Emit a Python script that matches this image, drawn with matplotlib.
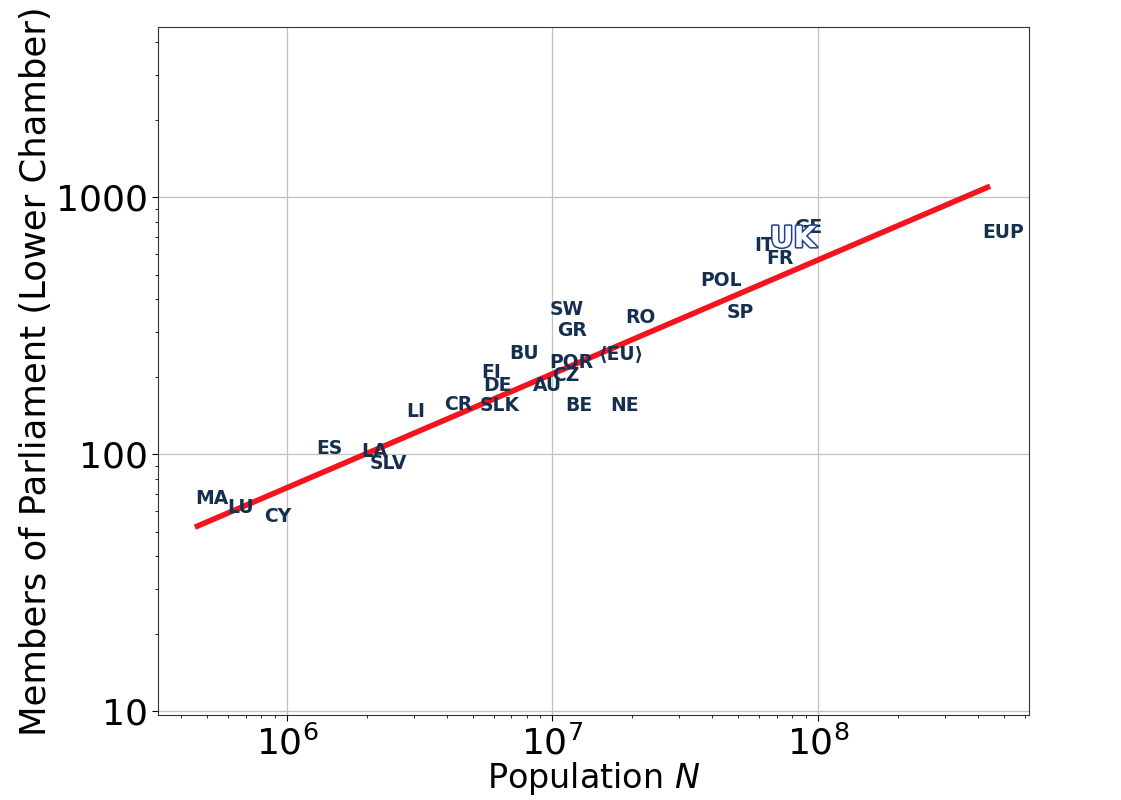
import matplotlib
matplotlib.use("Agg")
import matplotlib.pyplot as plt
import matplotlib.patheffects as pe
from matplotlib.ticker import FixedLocator, FixedFormatter

# country codes, population and lower-chamber seats
codes = ["MA", "LU", "CY", "ES", "LA", "SLV", "LI", "CR", "SLK", "FI", "DE",
         "BU", "AU", "SW", "GR", "POR", "CZ", "BE", "NE", "RO", "⟨EU⟩",
         "POL", "SP", "IT", "FR", "GE", "EUP"]
population = [5.2e5, 6.7e5, 9.2e5, 1.44e6, 2.13e6, 2.4e6, 3.06e6, 4.4e6, 6.3e6,
              5.9e6, 6.2e6, 7.8e6, 9.6e6, 1.13e7, 1.19e7, 1.18e7, 1.12e7,
              1.26e7, 1.86e7, 2.15e7, 1.81e7, 4.3e7, 5.1e7, 6.3e7, 7.2e7,
              9.2e7, 5.0e8]
seats = [67, 62, 57, 105, 102, 92, 147, 156, 155, 208, 185, 247, 185, 366,
         303, 228, 203, 155, 155, 341, 247, 475, 357, 650, 579, 764, 731]

uk_pop = 8.05e7
uk_seats = 687

# fitted power law endpoints
fit_x = [4.5e5, 4.45e8]
fit_y = [52, 1104]

fig = plt.figure(figsize=(11.21, 8.0), dpi=100)
ax = fig.add_axes([0.141, 0.106, 0.777, 0.86])
ax.set_xscale("log")
ax.set_yscale("log")
ax.set_xlim(3.27e5, 6.24e8)
ax.set_ylim(9.65, 4586)

ax.grid(True, which="major", color="#c0c0c0", linewidth=0.9)
ax.set_axisbelow(True)

ax.plot(fit_x, fit_y, color="#f5141e", linewidth=4, solid_capstyle="butt", zorder=2)

for c, x, y in zip(codes, population, seats):
    ax.text(x, y, c, ha="center", va="center", fontsize=13.5, fontweight="bold",
            color="#15304f", zorder=3)

ax.text(uk_pop, uk_seats, "UK", ha="center", va="center", fontsize=21,
        fontweight="bold", color="white", zorder=3,
        path_effects=[pe.withStroke(linewidth=2.2, foreground="#1d3f8f")])

ax.yaxis.set_major_locator(FixedLocator([10, 100, 1000]))
ax.yaxis.set_major_formatter(FixedFormatter(["10", "100", "1000"]))
ax.tick_params(axis="both", which="major", labelsize=26, length=4)
ax.tick_params(axis="both", which="minor", length=2)

ax.set_xlabel("Population $N$", fontsize=24, labelpad=-1)
ax.set_ylabel("Members of Parliament (Lower Chamber)", fontsize=25.5, labelpad=2)

for s in ax.spines.values():
    s.set_color("#333333")

fig.savefig("out.png", dpi=100)
